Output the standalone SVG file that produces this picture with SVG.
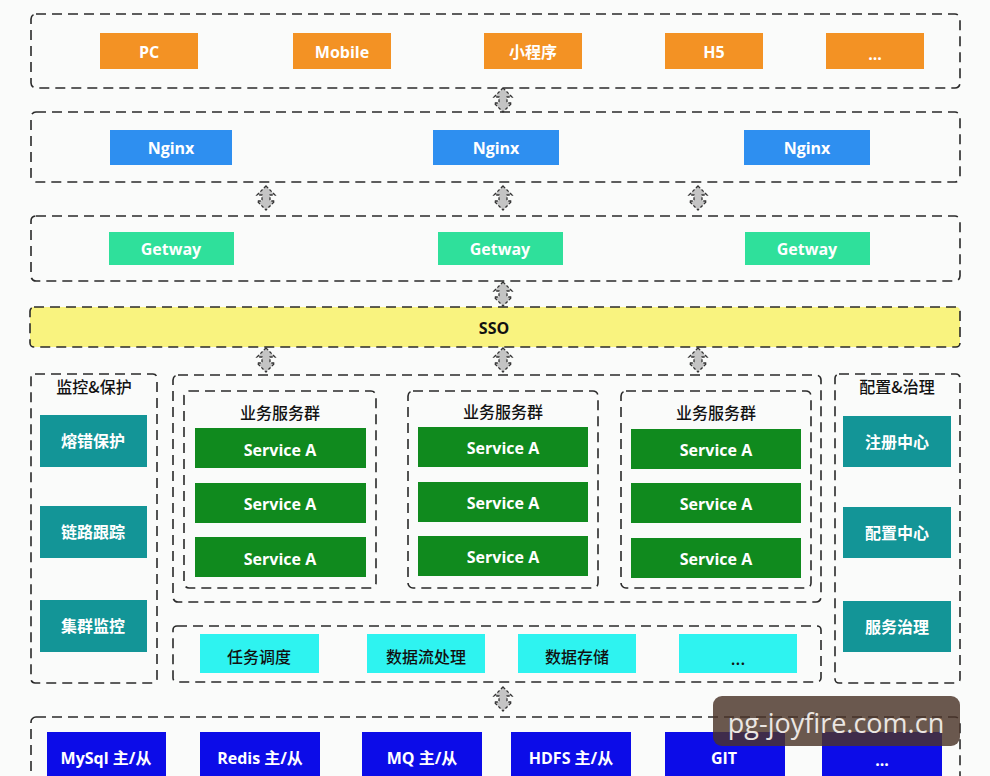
<svg xmlns="http://www.w3.org/2000/svg" width="990" height="776" viewBox="0 0 990 776">
<defs>
<style>
.bg{fill:#fafbfa}
.grp{fill:none;stroke:#2a2a2a;stroke-width:1.6;stroke-dasharray:10 6}
.t{font-family:"Open Sans","Noto Sans CJK SC",sans-serif;font-weight:bold;font-size:16px;fill:#ffffff;text-anchor:middle;dominant-baseline:central}
.tk{font-family:"Open Sans","Noto Sans CJK SC",sans-serif;font-size:16px;fill:#111;text-anchor:middle;dominant-baseline:central}
.tkb{font-family:"Noto Sans CJK SC",sans-serif;font-weight:500;font-size:16px;fill:#111;text-anchor:middle;dominant-baseline:central}
.org{fill:#f39224}
.ngx{fill:#2e8ff0}
.gw{fill:#2fe09b}
.svc{fill:#108a1e}
.teal{fill:#139597}
.cyan{fill:#2ef3f0}
.blue{fill:#0c0ce8}
.arr{fill:#c4c4c4;stroke:#333;stroke-width:1.3;stroke-dasharray:3 2}
</style>
<path id="dbl" d="M0,-12 L9,-3 L4,-3 L4,3 L9,3 L0,12 L-9,3 L-4,3 L-4,-3 L-9,-3 Z"/>
</defs>
<rect class="bg" x="0" y="0" width="990" height="776"/>

<!-- containers -->
<g id="containers">
<rect class="grp" x="31" y="14" width="929" height="74" rx="5"/>
<rect class="grp" x="31" y="112" width="929" height="70" rx="5"/>
<rect class="grp" x="31" y="216" width="929" height="65" rx="5"/>
<rect x="30" y="307" width="930" height="40" rx="4" fill="#f9f37f" stroke="#2a2a2a" stroke-width="1.6" stroke-dasharray="10 6"/>
<rect class="grp" x="31" y="374" width="126" height="309" rx="4"/>
<rect class="grp" x="173" y="375" width="648" height="227" rx="5"/>
<rect class="grp" x="184" y="391" width="192" height="197" rx="5"/>
<rect class="grp" x="408" y="391" width="190" height="197" rx="5"/>
<rect class="grp" x="621" y="391" width="190" height="197" rx="5"/>
<rect class="grp" x="835" y="374" width="125" height="309" rx="4"/>
<rect class="grp" x="173" y="626" width="648" height="56" rx="4"/>
<rect class="grp" x="31" y="717" width="929" height="80" rx="5"/>
</g>

<!-- connectors -->
<g id="connectors">
<use href="#dbl" class="arr" x="503" y="100"/>
<use href="#dbl" class="arr" x="266" y="198"/>
<use href="#dbl" class="arr" x="503" y="198"/>
<use href="#dbl" class="arr" x="698" y="198"/>
<use href="#dbl" class="arr" x="503" y="294"/>
<use href="#dbl" class="arr" x="266" y="360"/>
<use href="#dbl" class="arr" x="503" y="360"/>
<use href="#dbl" class="arr" x="698" y="360"/>
<use href="#dbl" class="arr" x="503" y="699"/>
</g>

<!-- clients -->
<g id="pc"><rect class="org" x="100" y="33" width="98" height="36"/><text class="t" x="149" y="52">PC</text></g>
<g id="mobile"><rect class="org" x="293" y="33" width="98" height="36"/><text class="t" x="342" y="52">Mobile</text></g>
<g id="miniapp"><rect class="org" x="484" y="33" width="98" height="36"/><text class="t" x="533" y="52">小程序</text></g>
<g id="h5"><rect class="org" x="665" y="33" width="98" height="36"/><text class="t" x="714" y="52">H5</text></g>
<g id="client-more"><rect class="org" x="826" y="33" width="98" height="36"/><text class="t" x="875" y="54">...</text></g>

<!-- nginx -->
<g id="nginx1"><rect class="ngx" x="110" y="130" width="122" height="35"/><text class="t" x="171" y="148">Nginx</text></g>
<g id="nginx2"><rect class="ngx" x="433" y="130" width="126" height="35"/><text class="t" x="496" y="148">Nginx</text></g>
<g id="nginx3"><rect class="ngx" x="744" y="130" width="126" height="35"/><text class="t" x="807" y="148">Nginx</text></g>

<!-- gateway -->
<g id="getway1"><rect class="gw" x="109" y="232" width="125" height="33"/><text class="t" x="171" y="249">Getway</text></g>
<g id="getway2"><rect class="gw" x="438" y="232" width="125" height="33"/><text class="t" x="500" y="249">Getway</text></g>
<g id="getway3"><rect class="gw" x="745" y="232" width="125" height="33"/><text class="t" x="807" y="249">Getway</text></g>

<!-- SSO -->
<g id="sso"><text class="tk" x="494" y="328" style="font-weight:bold">SSO</text></g>

<!-- left panel -->
<g id="monitor">
<text class="tkb" x="94" y="386">监控&amp;保护</text>
<g id="fuse"><rect class="teal" x="40" y="415" width="107" height="52"/><text class="t" x="93" y="441">熔错保护</text></g>
<g id="trace"><rect class="teal" x="40" y="506" width="107" height="52"/><text class="t" x="93" y="532">链路跟踪</text></g>
<g id="cluster"><rect class="teal" x="40" y="600" width="107" height="52"/><text class="t" x="93" y="626">集群监控</text></g>
</g>

<!-- service groups -->
<g id="svc-group1">
<text class="tkb" x="280" y="412">业务服务群</text>
<g id="s11"><rect class="svc" x="195" y="428" width="171" height="40"/><text class="t" x="280" y="450">Service A</text></g>
<g id="s12"><rect class="svc" x="195" y="483" width="171" height="40"/><text class="t" x="280" y="504">Service A</text></g>
<g id="s13"><rect class="svc" x="195" y="537" width="171" height="40"/><text class="t" x="280" y="559">Service A</text></g>
</g>
<g id="svc-group2">
<text class="tkb" x="503" y="411">业务服务群</text>
<g id="s21"><rect class="svc" x="418" y="427" width="170" height="40"/><text class="t" x="503" y="448">Service A</text></g>
<g id="s22"><rect class="svc" x="418" y="482" width="170" height="40"/><text class="t" x="503" y="503">Service A</text></g>
<g id="s23"><rect class="svc" x="418" y="536" width="170" height="40"/><text class="t" x="503" y="557">Service A</text></g>
</g>
<g id="svc-group3">
<text class="tkb" x="716" y="412">业务服务群</text>
<g id="s31"><rect class="svc" x="631" y="429" width="170" height="40"/><text class="t" x="716" y="450">Service A</text></g>
<g id="s32"><rect class="svc" x="631" y="483" width="170" height="40"/><text class="t" x="716" y="504">Service A</text></g>
<g id="s33"><rect class="svc" x="631" y="538" width="170" height="40"/><text class="t" x="716" y="559">Service A</text></g>
</g>

<!-- right panel -->
<g id="config">
<text class="tkb" x="897" y="386">配置&amp;治理</text>
<g id="registry"><rect class="teal" x="843" y="416" width="108" height="51"/><text class="t" x="897" y="442">注册中心</text></g>
<g id="config-center"><rect class="teal" x="843" y="507" width="108" height="51"/><text class="t" x="897" y="533">配置中心</text></g>
<g id="governance"><rect class="teal" x="843" y="601" width="108" height="51"/><text class="t" x="897" y="627">服务治理</text></g>
</g>

<!-- tasks -->
<g id="task"><rect class="cyan" x="200" y="634" width="119" height="39"/><text class="tkb" x="259" y="656">任务调度</text></g>
<g id="stream"><rect class="cyan" x="367" y="634" width="118" height="39"/><text class="tkb" x="426" y="656">数据流处理</text></g>
<g id="storage"><rect class="cyan" x="518" y="634" width="118" height="39"/><text class="tkb" x="577" y="656">数据存储</text></g>
<g id="task-more"><rect class="cyan" x="679" y="634" width="118" height="39"/><text class="tkb" x="738" y="658">...</text></g>

<!-- data layer -->
<g id="mysql"><rect class="blue" x="47" y="732" width="119" height="50"/><text class="t" x="106" y="758">MySql 主/从</text></g>
<g id="redis"><rect class="blue" x="200" y="732" width="120" height="50"/><text class="t" x="260" y="758">Redis 主/从</text></g>
<g id="mq"><rect class="blue" x="362" y="732" width="120" height="50"/><text class="t" x="422" y="758">MQ 主/从</text></g>
<g id="hdfs"><rect class="blue" x="511" y="732" width="120" height="50"/><text class="t" x="571" y="758">HDFS 主/从</text></g>
<g id="git"><rect class="blue" x="665" y="732" width="120" height="50"/><text class="t" x="724" y="758">GIT</text></g>
<g id="data-more"><rect class="blue" x="822" y="732" width="120" height="50"/><text class="t" x="882" y="760">...</text></g>

<!-- watermark -->
<g id="watermark">
<rect x="713" y="696" width="247" height="50" rx="9" fill="#4a3328" fill-opacity="0.82"/>
<text x="836" y="722" font-family="'Open Sans','Noto Sans',sans-serif" font-size="27" fill="#ebe6e2" text-anchor="middle" dominant-baseline="central">pg-joyfire.com.cn</text>
</g>
</svg>
